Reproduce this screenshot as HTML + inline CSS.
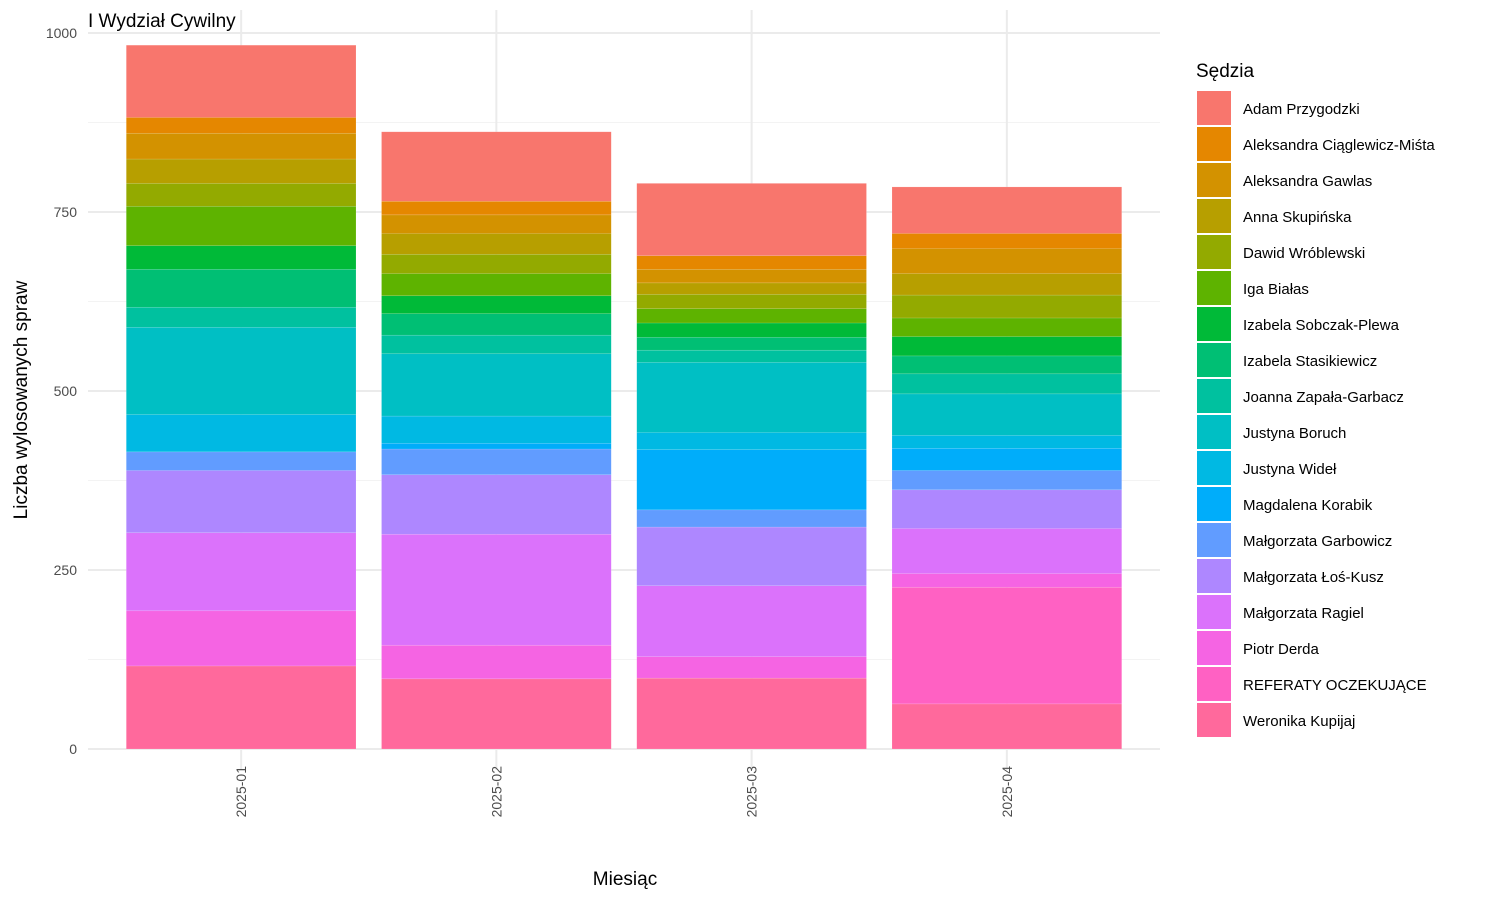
<!DOCTYPE html>
<html><head><meta charset="utf-8"><style>
body{margin:0;background:#fff;font-family:"Liberation Sans",Arial,sans-serif}
svg text{font-family:"Liberation Sans",Arial,sans-serif}
</style></head><body>
<svg id="chart" width="1500" height="900" xmlns="http://www.w3.org/2000/svg">
<rect width="1500" height="900" fill="#fff"/>
<g id="grid"></g>
<g id="bars"></g>
<g id="axes"></g>
<text x="88" y="27" font-size="19" fill="#000">I Wydział Cywilny</text>
<text x="625" y="885" font-size="19" text-anchor="middle" fill="#000">Miesiąc</text>
<text transform="translate(27,400) rotate(-90)" font-size="19" text-anchor="middle" fill="#000">Liczba wylosowanych spraw</text>
<g id="legend">
<text x="1196" y="77" font-size="19" fill="#000">Sędzia</text>
</g>
</svg>
<script>
const categories = ["2025-01","2025-02","2025-03","2025-04"];
const judges = ["Adam Przygodzki","Aleksandra Ciąglewicz-Miśta","Aleksandra Gawlas","Anna Skupińska","Dawid Wróblewski","Iga Białas","Izabela Sobczak-Plewa","Izabela Stasikiewicz","Joanna Zapała-Garbacz","Justyna Boruch","Justyna Wideł","Magdalena Korabik","Małgorzata Garbowicz","Małgorzata Łoś-Kusz","Małgorzata Ragiel","Piotr Derda","REFERATY OCZEKUJĄCE","Weronika Kupijaj"];
const colors = ["#F8766D","#E58700","#D39200","#B79F00","#93AA00","#5EB300","#00BA38","#00BF74","#00C19F","#00BFC4","#00B9E3","#00ADFA","#619CFF","#AE87FF","#DB72FB","#F564E3","#FF61C3","#FF699C"];
const series2025_01 = [101,22,36,34,32,55,33,53,28,122,52,0,26,87,109,77,0,116];
const series2025_02 = [97,19,26,29,27,31,25,30,26,87,38,8,36,83,155,47,0,98];
const series2025_03 = [101,19,19,16,20,20,20,18,17,98,24,84,24,82,99,30,0,99];
const series2025_04 = [65,21,35,30,32,26,27,25,28,58,18,31,27,54,63,19,163,63];
const seriesByMonth = [series2025_01,series2025_02,series2025_03,series2025_04];
const yTicks = [0,250,500,750,1000];
const yMinor = [125,375,625,875];

const NS="http://www.w3.org/2000/svg";
const px0=88, px1=1160, py0=10, py1=770;
const yScale=v=>749-v*0.716;
const xScale=i=>px0+(i+1-0.4)*(px1-px0)/4.2;
const bw=0.9*(px1-px0)/4.2;
function mk(tag,attrs,parent){const e=document.createElementNS(NS,tag);for(const k in attrs)e.setAttribute(k,attrs[k]);parent.appendChild(e);return e;}
const grid=document.getElementById('grid'),bars=document.getElementById('bars'),axes=document.getElementById('axes'),legend=document.getElementById('legend');
yMinor.forEach(v=>{const l=mk('line',{x1:px0,x2:px1,y1:yScale(v),y2:yScale(v),stroke:'#F3F3F3','stroke-width':1},grid);

});
yTicks.forEach(v=>{const l=mk('line',{x1:px0,x2:px1,y1:yScale(v),y2:yScale(v),stroke:'#EBEBEB','stroke-width':2},grid);


const t=mk('text',{x:77,y:yScale(v)+5,'font-size':14,'text-anchor':'end',fill:'#4D4D4D'},axes);t.textContent=v;

});
categories.forEach((c,i)=>{const x=xScale(i);
const l=mk('line',{x1:x,x2:x,y1:py0,y2:py1,stroke:'#EBEBEB','stroke-width':2},grid);


const t=mk('text',{transform:`translate(${x+5},766) rotate(-90)`,'font-size':14,'text-anchor':'end',fill:'#4D4D4D'},axes);t.textContent=c;


const vals=seriesByMonth[i];let cum=0;
for(let j=vals.length-1;j>=0;j--){const v=vals[j];if(v<=0)continue;
const r=mk('rect',{x:x-bw/2,y:yScale(cum+v),width:bw,height:v*0.716,fill:colors[j],stroke:'rgba(255,255,255,0.25)','stroke-width':0.5},bars);


cum+=v;}});
judges.forEach((j,k)=>{const y=91+k*36;
const r=mk('rect',{x:1197,y:y,width:34,height:34,fill:colors[k]},legend);


const t=mk('text',{x:1243,y:y+23,'font-size':15,fill:'#000'},legend);t.textContent=j;

});
</script>
</body></html>
